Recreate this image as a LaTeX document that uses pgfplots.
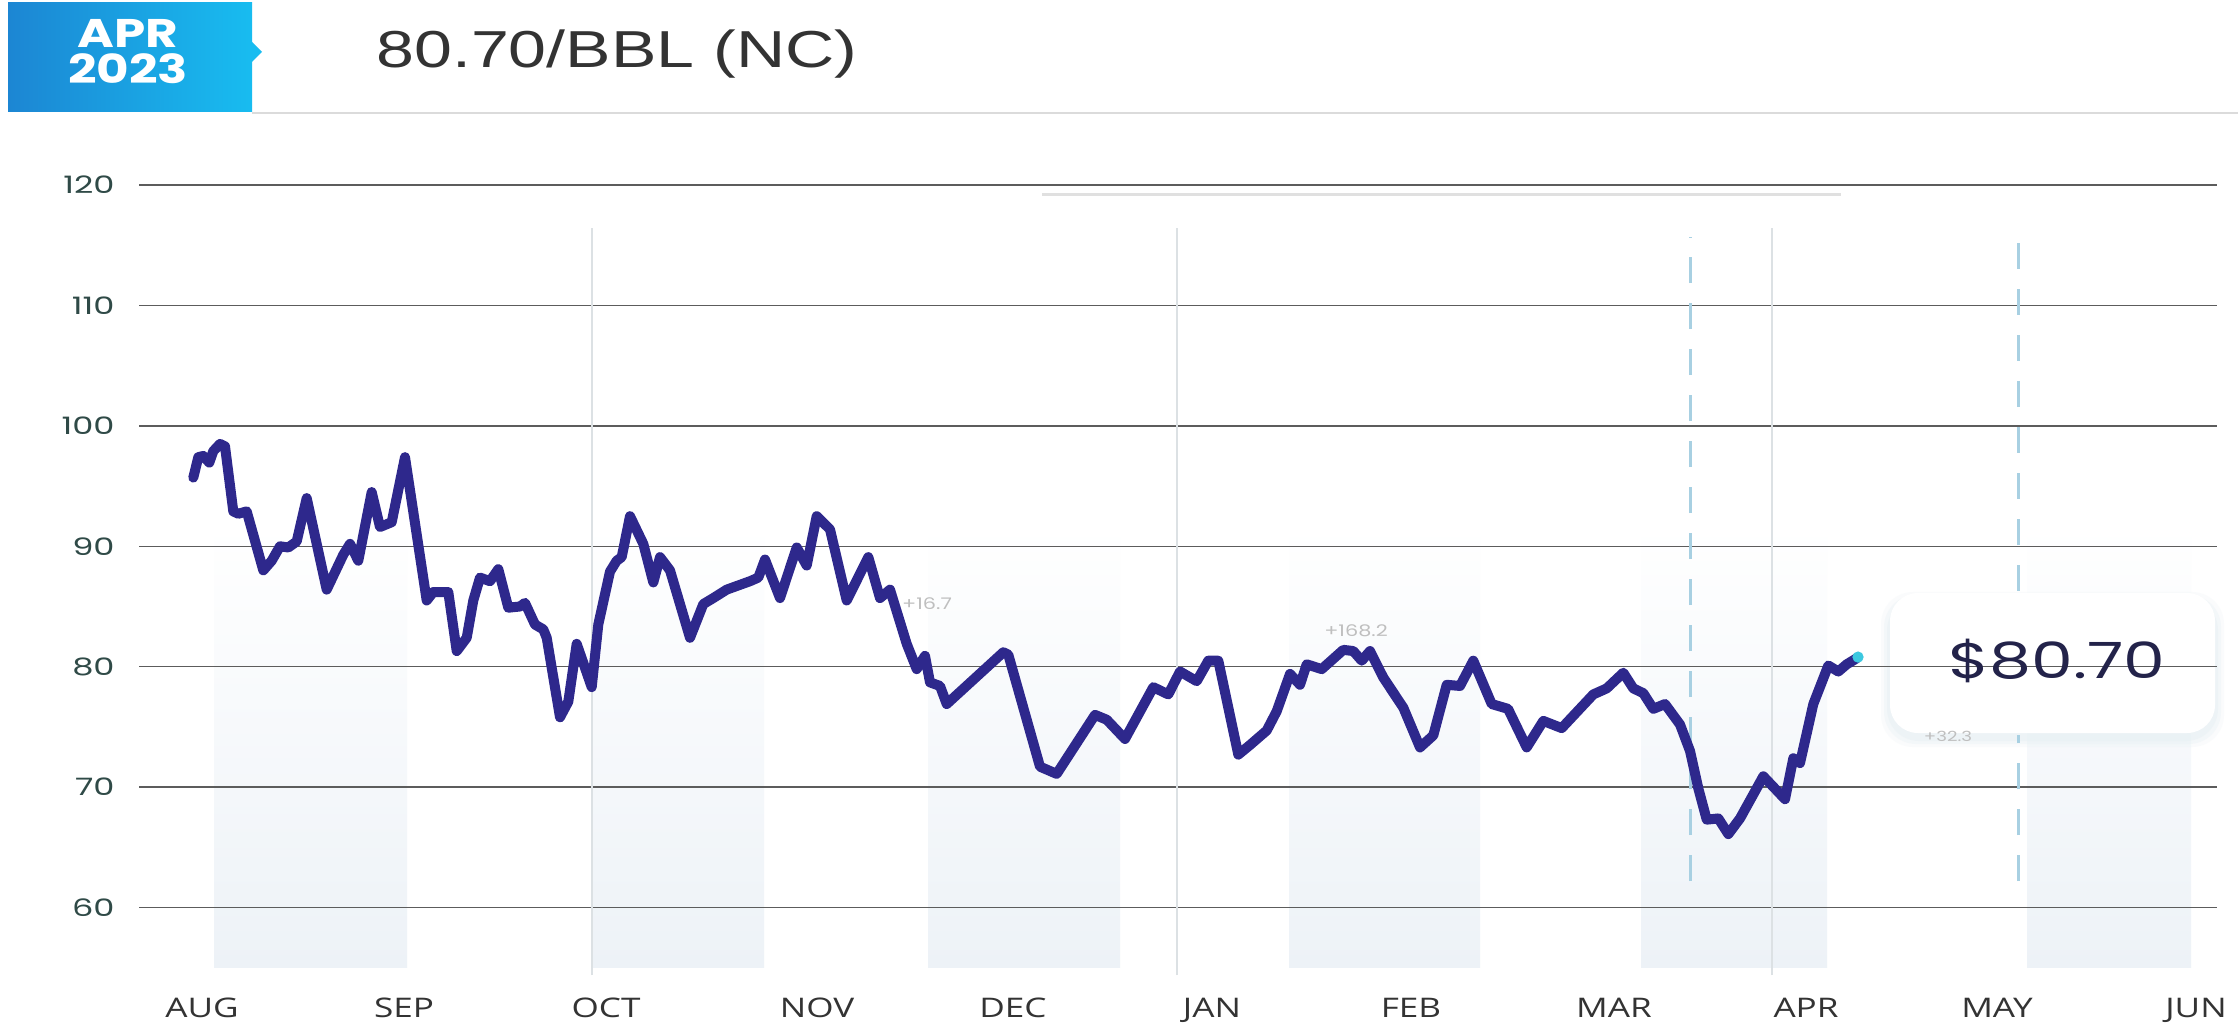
\documentclass[border=0pt]{standalone}
\usepackage{fontspec}
\setmainfont{Open Sans}
\newfontfamily\pop{Poppins}
\newfontfamily\lib{Liberation Sans}
\usepackage{graphicx}
\usepackage{pgfplots}
\pgfplotsset{compat=1.18}
\definecolor{pline}{HTML}{2E288C}
\definecolor{hdrL}{HTML}{1C86D3}
\definecolor{hdrR}{HTML}{18BCF0}
\definecolor{bgcol}{HTML}{EDF2F7}
\definecolor{vgray}{HTML}{DCE1E4}
\definecolor{dashcol}{HTML}{A8D0E2}
\definecolor{ycol}{HTML}{2F4A47}
\definecolor{mcol}{HTML}{333333}
\definecolor{pricecol}{HTML}{23234A}
\definecolor{dotcol}{HTML}{3CC8E0}
\definecolor{shad}{HTML}{E6EFF3}
\newcommand\sx[2][1.3]{\scalebox{#1}[1]{#2}}
\newcommand\sy[1]{\scalebox{1.4}[1]{#1}}

\pgfplotstableread{
x y
193.3 95.7
198.3 97.4
203.3 97.5
209.3 96.95
213.3 97.9
220 98.5
225 98.3
233.3 92.9
238.3 92.7
246.7 92.9
263.3 88.0
271.7 88.8
280 90.0
288.3 89.9
296.7 90.4
306.7 94.0
326.7 86.4
343.3 89.3
350 90.2
358.3 88.8
371.7 94.5
380 91.6
391.7 92.0
405 97.4
426.7 85.5
433.3 86.2
448.3 86.2
456.7 81.3
466.7 82.4
473.3 85.5
480 87.4
490 87.1
498.3 88.1
508.3 84.9
520 85.0
525 85.3
535 83.5
543.3 83.1
546.7 82.4
560 75.8
568.3 77.1
576.7 81.9
591.7 78.3
598.3 83.5
610 87.9
616.7 88.8
621.7 89.1
630 92.5
643.3 90.2
653.3 87.0
660 89.1
670 88.0
690 82.4
703.3 85.2
713.3 85.7
726.7 86.4
740 86.8
750 87.1
758.3 87.4
765 88.9
780 85.7
796.7 89.9
806.7 88.4
816.7 92.5
830 91.4
846.7 85.5
868.3 89.1
880 85.7
890 86.4
906.7 81.9
916.7 79.8
925 80.9
930 78.7
940 78.4
946.7 76.9
1003.3 81.2
1008.3 81.0
1040 71.7
1056.7 71.1
1095 76.0
1106.7 75.6
1125 74.0
1153.3 78.3
1168.3 77.7
1180 79.6
1196.7 78.8
1208.3 80.5
1218.3 80.5
1238.3 72.7
1250 73.5
1266.7 74.7
1276.7 76.3
1290 79.4
1300 78.5
1306.7 80.2
1321.7 79.8
1343.3 81.4
1353.3 81.3
1361.7 80.5
1370 81.3
1383.3 79.1
1403.3 76.6
1420 73.3
1433.3 74.3
1446.7 78.5
1460 78.4
1473.3 80.5
1491.7 76.9
1508 76.5
1526.7 73.3
1543.3 75.5
1561.7 74.9
1593.3 77.7
1606.7 78.2
1623.3 79.5
1633.3 78.2
1643.3 77.8
1653.3 76.5
1665 76.9
1680 75.2
1690 73.0
1698.3 69.9
1706.7 67.3
1718.3 67.4
1728.3 66.1
1740 67.4
1763.3 70.9
1785 69.0
1793.3 72.4
1800 72.0
1813.3 76.9
1828.3 80.1
1838.3 79.6
1846.7 80.2
1856.7 80.7
}\pricedata

\begin{document}
\begin{tikzpicture}
\begin{scope}[x=0.5pt,y=0.5pt]
\useasboundingbox (0,0) rectangle (2238,1024);
\fill[white] (0,0) rectangle (2238,1024);
\foreach \a/\b in {214/407, 592/764, 928/1120, 1289/1480, 1641/1827, 2027/2191} {
  \shade[top color=white, bottom color=bgcol] (\a,57) rectangle (\b,500);
}
% card with soft shadow
\foreach \s/\o in {9/0.2, 6/0.3, 3/0.4} {
  \fill[shad, opacity=\o, rounded corners=16pt] (1890-\s,291-\s-5) rectangle (2215+\s,431+\s-8);
}
\fill[white, rounded corners=14pt] (1890,291) rectangle (2215,431);
% header
\shade[left color=hdrL, right color=hdrR] (8,912) rectangle (252,1021);
\fill[hdrR] (252,962) -- (262,972) -- (252,982) -- cycle;
\draw[black!14, line width=1pt] (252,911) -- (2238,911);
\draw[black!12, line width=1.5pt] (1042,829) -- (1841,829);
\end{scope}

\begin{axis}[
  at={(69.5pt,24.5pt)}, anchor=south west,
  width=1039pt, height=395pt, scale only axis,
  xmin=139, xmax=2217, ymin=54.4, ymax=120,
  axis line style={draw=none}, tick style={draw=none},
  clip=false,
  ytick={60,70,80,90,100,110,120},
  yticklabels={\sy{60},\sy{70},\sy{80},\sy{90},\sy{100},\sy{110},\sy{120}},
  ymajorgrids,
  grid style={black!64, line width=0.75pt},
  xtick={202,404,606,817,1013,1212,1411,1614,1806,1997,2196},
  xticklabels={\sx{AUG},\sx{SEP},\sx{OCT},\sx{NOV},\sx{DEC},\sx{JAN},\sx{FEB},\sx{MAR},\sx{APR},\sx{MAY},\sx{JUN}},
  xticklabel style={anchor=base, inner sep=0pt, yshift=-21pt, font=\fontsize{13.5}{13.5}\selectfont, text=mcol},
  yticklabel style={anchor=east, inner sep=0pt, xshift=-12pt, font=\pop\fontsize{12}{12}\selectfont, text=ycol},
]
\addplot[draw=vgray, line width=1.1pt] coordinates {(592,54.4) (592,116.4)};
\addplot[draw=vgray, line width=1.1pt] coordinates {(1177,54.4) (1177,116.4)};
\addplot[draw=vgray, line width=1.1pt] coordinates {(1772,54.4) (1772,116.4)};
\addplot[draw=dashcol, line width=1.5pt, dash pattern=on 13pt off 10pt] coordinates {(1690,62.2) (1690,115.7)};
\addplot[draw=dashcol, line width=1.5pt, dash pattern=on 13pt off 10pt] coordinates {(2018,62.2) (2018,74.3)};
\addplot[draw=dashcol, line width=1.5pt, dash pattern=on 13pt off 10pt] coordinates {(2018,86.3) (2018,115.7)};
\node[text=black!25, font=\pop\fontsize{8}{8}\selectfont] at (axis cs:927,85.2) {\sx{+16.7}};
\node[text=black!25, font=\pop\fontsize{8}{8}\selectfont] at (axis cs:1356,83.0) {\sx{+168.2}};
\node[text=black!25, font=\pop\fontsize{7}{7}\selectfont] at (axis cs:1948,74.2) {\sx{+32.3}};
\addplot[draw=pline, line width=5pt, line join=round, line cap=round] table[x=x, y=y] {\pricedata};
\addplot[only marks, mark=*, mark size=2.6pt, color=dotcol] coordinates {(1858,80.8)};
\end{axis}

\begin{scope}[x=0.5pt,y=0.5pt]
\node[anchor=base, white, inner sep=0pt] at (128,976) {\pop\bfseries\fontsize{20}{20}\selectfont\sx[1.25]{APR}};
\node[anchor=base, white, inner sep=0pt] at (128,940) {\pop\bfseries\fontsize{20}{20}\selectfont\sx[1.25]{2023}};
\node[anchor=base west, inner sep=0pt, text=black!80] at (376,956) {\lib\fontsize{26}{26}\selectfont\sx[1.31]{80.70/BBL (NC)}};
\node[anchor=base west, inner sep=0pt, text=pricecol] at (1948,346) {\pop\fontsize{25}{25}\selectfont\sx[1.33]{\$80.70}};
\end{scope}
\end{tikzpicture}
\end{document}
